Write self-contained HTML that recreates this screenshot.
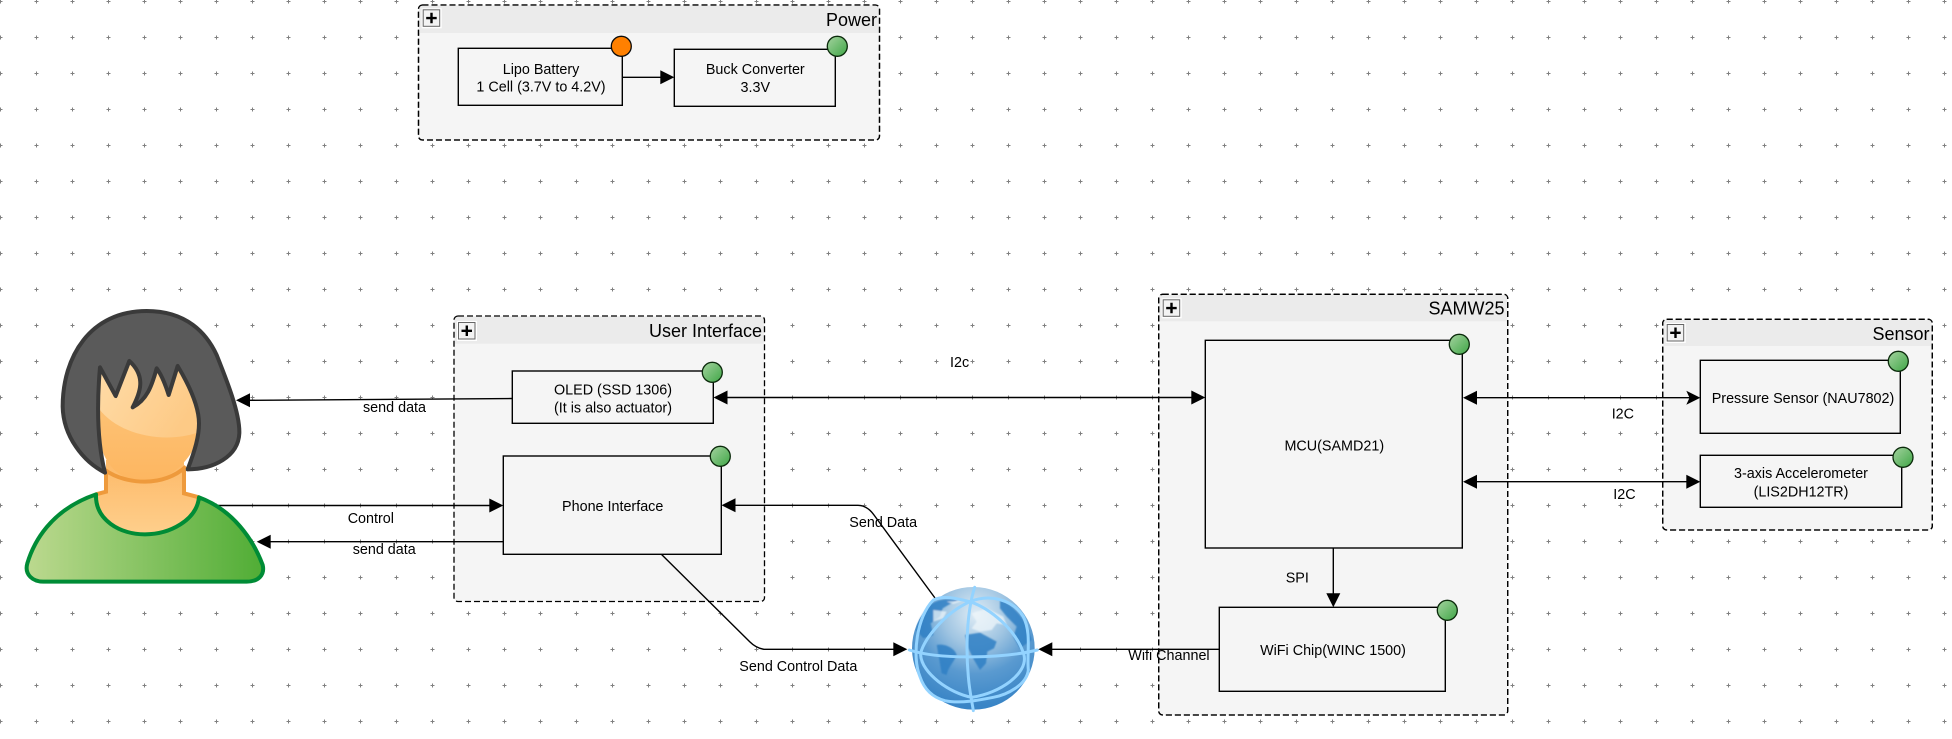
<!DOCTYPE html>
<html><head><meta charset="utf-8">
<style>
html,body{margin:0;padding:0;background:#fff;width:1952px;height:739px;overflow:hidden}
svg{display:block}
text{font-family:"Liberation Sans",sans-serif;font-size:14.35px;fill:#000}
.t{font-size:18px;text-anchor:end}
.m{text-anchor:middle}
.g{fill:#f5f5f5;stroke:#000;stroke-width:1.3;stroke-dasharray:6 3}
.h{fill:#ebebeb}
.n{fill:#f5f5f5;stroke:#000;stroke-width:1.4}
.c{fill:url(#gr);stroke:#0b2a0b;stroke-width:1.3}
.l{fill:none;stroke:#000;stroke-width:1.4}
.pb{fill:#fff}
.pi{fill:#f3f3f3;stroke:#666;stroke-width:1}
.pp{stroke:#000;stroke-width:2.4}
.d{fill:#2f7fc4;opacity:.85}
.w{fill:#eef5fa;opacity:.75}
.e{fill:none;stroke:#93d3ff;stroke-width:9;stroke-linecap:round}
</style></head><body>
<svg xmlns="http://www.w3.org/2000/svg" width="1952" height="739" viewBox="0 0 1952 739">
<defs>
<pattern id="grid" x="0" y="0" width="36" height="36" patternUnits="userSpaceOnUse">
<path d="M.5 -.5V3.5M-1.5 1.5H2.5M36.5 -.5V3.5M34.5 1.5H38.5M.5 35.5V39.5M-1.5 37.5H2.5M36.5 35.5V39.5M34.5 37.5H38.5" stroke="#808080" stroke-width="1" fill="none"/>
</pattern>
<linearGradient id="gr" x1="0" y1="0" x2="1" y2="1"><stop offset="0" stop-color="#a5d3a0"/><stop offset="1" stop-color="#3fa646"/></linearGradient>
<linearGradient id="body" x1="0" y1="0" x2="1" y2="0"><stop offset="0" stop-color="#bcd98f"/><stop offset="1" stop-color="#50ad35"/></linearGradient>
<linearGradient id="skin" x1="0" y1="0" x2="0" y2="1"><stop offset="0" stop-color="#fdc880"/><stop offset="1" stop-color="#fdb660"/></linearGradient>
<linearGradient id="neck" x1="0" y1="0" x2="0" y2="1"><stop offset="0" stop-color="#fdb968"/><stop offset="1" stop-color="#fecf8c"/></linearGradient>
<linearGradient id="hi" x1="0" y1="0" x2="1" y2="0.5"><stop offset="0" stop-color="#ffdca8"/><stop offset="1" stop-color="#fdca86"/></linearGradient>
<radialGradient id="globe" cx="0.52" cy="0.22" r="0.75"><stop offset="0" stop-color="#dfecf5"/><stop offset="0.35" stop-color="#a0c5e2"/><stop offset="0.65" stop-color="#5a9ad0"/><stop offset="1" stop-color="#3a85c6"/></radialGradient>
<filter id="soft" x="-10%" y="-10%" width="120%" height="120%"><feGaussianBlur stdDeviation="2.5"/></filter>
</defs>
<rect width="1952" height="739" fill="#fff"/>
<rect width="1952" height="739" fill="url(#grid)"/>

<!-- groups -->
<rect class="g" x="418.5" y="5" width="461" height="135" rx="4"/>
<rect class="h" x="419.2" y="5.7" width="459.6" height="27.3"/>
<rect class="g" x="454" y="316" width="310.5" height="285.5" rx="4" style="stroke:none"/>
<rect class="h" x="454.7" y="316.7" width="309" height="27"/>
<rect x="454" y="316" width="310.5" height="285.5" rx="4" fill="none" stroke="#000" stroke-width="1.3" stroke-dasharray="6 3"/>
<rect class="g" x="1158.7" y="294.3" width="349" height="420.7" rx="4"/>
<rect class="h" x="1159.4" y="295" width="347.6" height="26.3"/>
<rect class="g" x="1662.7" y="319.3" width="269.6" height="210.7" rx="4"/>
<rect class="h" x="1663.4" y="320" width="268.2" height="26"/>
<rect x="418.5" y="5" width="461" height="135" rx="4" fill="none" stroke="#000" stroke-width="1.3" stroke-dasharray="6 3"/>
<rect x="1158.7" y="294.3" width="349" height="420.7" rx="4" fill="none" stroke="#000" stroke-width="1.3" stroke-dasharray="6 3"/>
<rect x="1662.7" y="319.3" width="269.6" height="210.7" rx="4" fill="none" stroke="#000" stroke-width="1.3" stroke-dasharray="6 3"/>

<!-- plus boxes -->
<g transform="translate(422.7,9.3)"><rect class="pb" x="-1" y="-1" width="20" height="20"/><rect class="pi" x=".5" y=".5" width="16.5" height="16.5"/><path class="pp" d="M3.5 8.8H14M8.8 3.5V14"/></g>
<g transform="translate(458,322)"><rect class="pb" x="-1" y="-1" width="20" height="20"/><rect class="pi" x=".5" y=".5" width="16.5" height="16.5"/><path class="pp" d="M3.5 8.8H14M8.8 3.5V14"/></g>
<g transform="translate(1162.7,299.3)"><rect class="pb" x="-1" y="-1" width="20" height="20"/><rect class="pi" x=".5" y=".5" width="16.5" height="16.5"/><path class="pp" d="M3.5 8.8H14M8.8 3.5V14"/></g>
<g transform="translate(1666.7,324)"><rect class="pb" x="-1" y="-1" width="20" height="20"/><rect class="pi" x=".5" y=".5" width="16.5" height="16.5"/><path class="pp" d="M3.5 8.8H14M8.8 3.5V14"/></g>

<!-- titles -->
<text class="t" x="877" y="26">Power</text>
<text class="t" x="762" y="337">User Interface</text>
<text class="t" x="1504.5" y="314.5">SAMW25</text>
<text class="t" x="1929.5" y="340">Sensor</text>

<!-- nodes -->
<rect class="n" x="458.3" y="48.3" width="164" height="57"/>
<rect class="n" x="674.3" y="49.3" width="161" height="57"/>
<rect class="n" x="512.3" y="371" width="201" height="52.3"/>
<rect class="n" x="503.3" y="456" width="218" height="98.3"/>
<rect class="n" x="1205.3" y="340.3" width="257" height="207.7"/>
<rect class="n" x="1219.3" y="607.3" width="226" height="84"/>
<rect class="n" x="1700.3" y="360.3" width="200" height="73"/>
<rect class="n" x="1700.3" y="455.3" width="201.4" height="52"/>

<!-- connectors -->
<path class="l" d="M622.3 77.3H661"/>
<path d="M674.3 77.3L660.3 70.3V84.3Z"/>
<path class="l" d="M512.3 398.5L249 400.3"/>
<path d="M236 400.3L250 393.3V407.3Z"/>
<path class="l" d="M218 505.5H491"/>
<path d="M503.3 505.5L489.3 498.5V512.5Z"/>
<path class="l" d="M503.3 541.7H270"/>
<path d="M256.7 541.7L270.7 534.7V548.7Z"/>
<path class="l" d="M727 397.5H1193"/>
<path d="M713.5 397.5L727.5 390.5V404.5Z"/><path d="M1205.3 397.5L1191.3 390.5V404.5Z"/>
<path class="l" d="M734 505.3H858Q867 505.3 874 515L935 598"/>
<path d="M721.5 505.3L735.5 498.3V512.3Z"/>
<path class="l" d="M661.7 554.6L750 642Q756 648 764 649.3H895"/>
<path d="M907.3 649.3L893.3 642.3V656.3Z"/>

<!-- globe -->
<g transform="translate(900,580) scale(.33333)">
<circle cx="220" cy="205" r="184" fill="url(#globe)"/>
<g filter="url(#soft)">
<path class="d" d="M90 75C115 55 150 55 175 60L150 72 128 85 120 110 92 130 100 165 70 175 48 150C55 120 70 95 90 75Z"/>
<path class="d" d="M300 60C345 75 385 130 395 180L360 205 340 170 350 140 320 110 300 85Z"/>
<path class="d" d="M110 195C135 190 165 205 170 225 160 250 145 260 140 285L125 280 118 240Z"/>
<path class="d" d="M195 165L240 158 290 185 282 205 262 215 258 250 240 270 222 240 205 205Z"/>
<path class="w" d="M100 90L140 95 130 115 100 125ZM215 100L260 85 310 110 320 135 290 130 275 150 240 155 215 145 230 125ZM140 65L190 62 160 72Z"/>
</g>
<path class="e" d="M28 210C120 240 310 235 412 210"/>
<path class="e" d="M224 22C205 80 195 180 205 290 208 330 215 360 220 392"/>
<path class="e" d="M210 65C130 100 62 190 62 225 65 280 150 340 215 352"/>
<path class="e" d="M210 65C270 85 350 150 372 225 385 280 300 340 215 352"/>
<path class="e" d="M100 60C130 45 170 55 210 65 270 40 340 60 370 110 395 160 380 220 385 270 380 315 320 345 280 352 240 360 180 372 135 362 90 350 70 320 60 290 35 230 50 110 100 60Z"/>
</g>

<path class="l" d="M1219.3 649.3H1051"/>
<path d="M1038.3 649.3L1052.3 642.3V656.3Z"/>
<path class="l" d="M1333.3 548V595"/>
<path d="M1333.3 607.3L1326.3 593.3H1340.3Z"/>
<path class="l" d="M1476 397.7H1690"/>
<path d="M1463 397.7L1477 390.7V404.7Z"/><path d="M1700.3 397.7L1686.3 390.7L1689.5 397.7L1686.3 404.7Z"/>
<path class="l" d="M1476 481.7H1690"/>
<path d="M1463 481.7L1477 474.7V488.7Z"/><path d="M1700.3 481.7L1686.3 474.7V488.7Z"/>

<!-- status circles -->
<circle cx="621.3" cy="46.3" r="10" fill="#ff8000" stroke="#0b0b0b" stroke-width="1.3"/>
<circle class="c" cx="837.3" cy="46.3" r="10"/>
<circle class="c" cx="712.3" cy="372.3" r="10"/>
<circle class="c" cx="720.3" cy="456.3" r="10"/>
<circle class="c" cx="1459.3" cy="344.3" r="10"/>
<circle class="c" cx="1447.3" cy="610.3" r="10"/>
<circle class="c" cx="1898.3" cy="361.3" r="10"/>
<circle class="c" cx="1903" cy="457.3" r="10"/>

<!-- person -->
<g transform="translate(0,280) scale(.33333)">
<path d="M318 540V635L288 643C288 720 360 763 435 763 510 763 590 720 597 652L552 640V540Z" fill="url(#neck)"/>
<path d="M318 570V635L288 643M552 570V640L597 652" fill="none" stroke="#ee9a3c" stroke-width="12"/>
<path d="M288 643C150 690 100 790 82 850 72 885 100 905 130 905H740C775 905 795 885 788 855 760 780 700 690 597 652 590 720 510 763 435 763 360 763 285 720 288 643Z" fill="url(#body)" stroke="#008c36" stroke-width="12" stroke-linejoin="round"/>
<path d="M295 260H600V450C590 520 520 605 435 605 350 605 300 540 295 450Z" fill="url(#skin)"/>
<path d="M296 385C360 470 500 490 592 458L597 250H296Z" fill="url(#hi)"/>
<path d="M315 570C350 595 395 605 435 605 480 605 525 590 558 560" fill="none" stroke="#ee9a3c" stroke-width="12"/>
<path d="M315 578C250 545 190 470 188 380 188 230 270 93 440 93 560 93 620 160 650 225 680 300 720 400 718 460 715 530 640 568 563 568 585 510 597 470 597 430 597 380 570 320 533 258L506 345C495 310 485 285 470 265 455 320 440 360 398 382 420 340 440 290 388 243L347 348 300 262C288 400 295 500 315 578Z" fill="#5a5a5a" stroke="#3a3a3a" stroke-width="12" stroke-linejoin="round"/>
</g>

<!-- node labels -->
<text class="m" x="541" y="74">Lipo Battery</text>
<text class="m" x="541" y="91.3">1 Cell (3.7V to 4.2V)</text>
<text class="m" x="755.3" y="74">Buck Converter</text>
<text class="m" x="755.3" y="92">3.3V</text>
<text class="m" x="613" y="394.3">OLED (SSD 1306)</text>
<text class="m" x="613" y="412.3">(It is also actuator)</text>
<text class="m" x="612.7" y="511">Phone Interface</text>
<text class="m" x="1334.3" y="450.3">MCU(SAMD21)</text>
<text class="m" x="1333" y="655">WiFi Chip(WINC 1500)</text>
<text class="m" x="1803" y="403">Pressure Sensor (NAU7802)</text>
<text class="m" x="1801" y="478">3-axis Accelerometer</text>
<text class="m" x="1801" y="496.7">(LIS2DH12TR)</text>

<!-- edge labels -->
<text x="363" y="412">send data</text>
<text x="347.7" y="523">Control</text>
<text x="352.7" y="554">send data</text>
<text x="950" y="367">I2c</text>
<text x="849.3" y="527">Send Data</text>
<text x="739.3" y="671">Send Control Data</text>
<text x="1128.3" y="660">Wifi Channel</text>
<text x="1285.7" y="582.7">SPI</text>
<text x="1611.7" y="418.3">I2C</text>
<text x="1613.3" y="499">I2C</text>
</svg>
</body></html>
